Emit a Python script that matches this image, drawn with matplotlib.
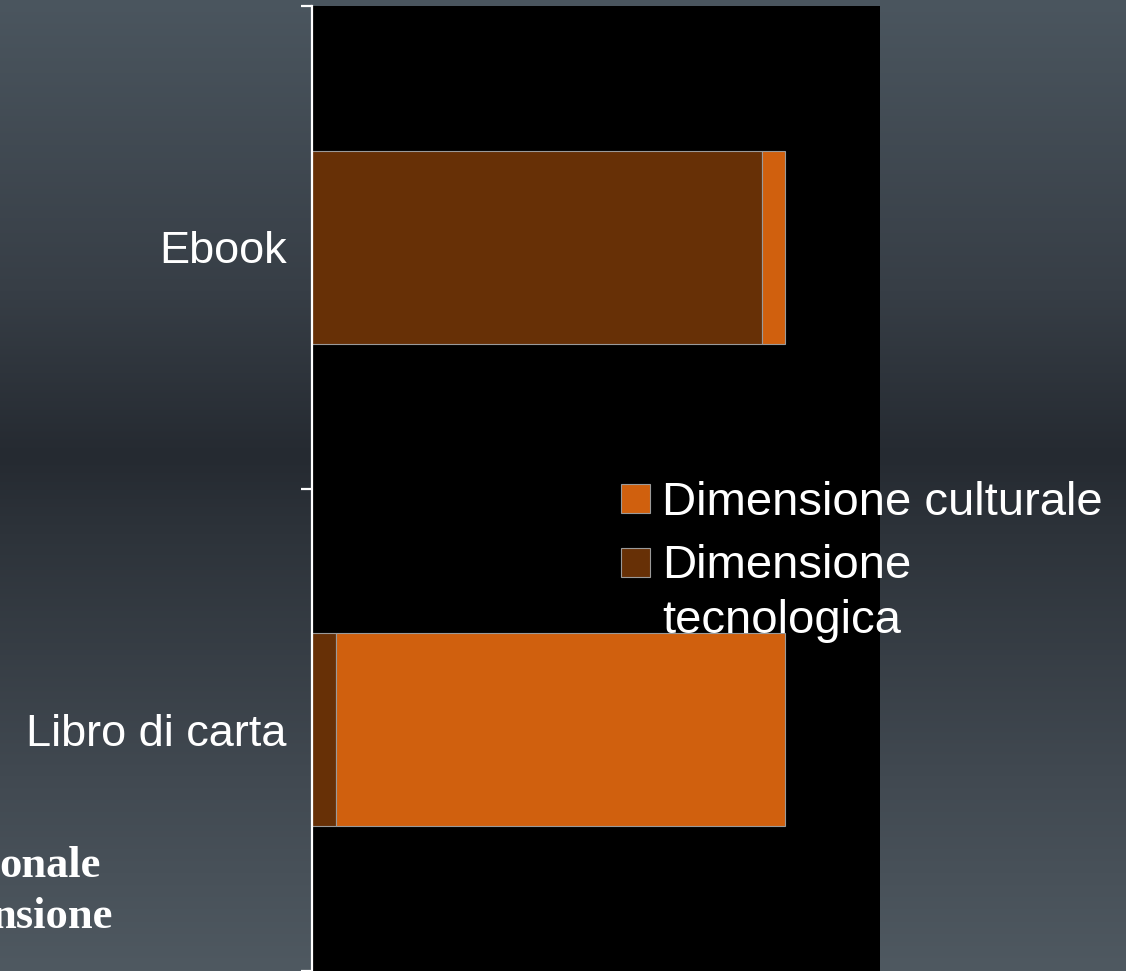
import numpy as np
import matplotlib.pyplot as plt
from matplotlib.patches import Rectangle

categories = ['Libro di carta', 'Ebook']
tecnologica = [5, 95]
culturale = [95, 5]
series_names = ['Dimensione culturale', 'Dimensione tecnologica']

c_cult = '#D0600E'
c_tecn = '#673006'
edge = '#9a9a9a'

W, H = 1126, 971
fig = plt.figure(figsize=(W / 100, H / 100), dpi=100)

# background gradient
stops = [0.0, 0.3, 0.47, 0.55, 0.8, 1.0]
cols = np.array([[75, 86, 95], [55, 62, 70], [37, 42, 49],
                 [45, 51, 58], [65, 73, 81], [79, 89, 97]]) / 255.0
yy = np.linspace(0, 1, 400)
grad = np.stack([np.interp(yy, stops, cols[:, k]) for k in range(3)], axis=1)
bg = fig.add_axes([0, 0, 1, 1], zorder=-1)
bg.imshow(grad[:, None, :], aspect='auto', extent=[0, 1, 1, 0])
bg.set_axis_off()

ax = fig.add_axes([312 / W, 0, (880 - 312) / W, 965 / H])
ax.set_facecolor('black')
y = np.arange(len(categories))
ax.barh(y, tecnologica, height=0.4, color=c_tecn, edgecolor=edge, linewidth=0.8)
ax.barh(y, culturale, left=tecnologica, height=0.4, color=c_cult, edgecolor=edge, linewidth=0.8)
ax.set_xlim(0, 120)
ax.set_ylim(-0.5, 1.5)

for s in ['top', 'right', 'bottom']:
    ax.spines[s].set_visible(False)
ax.spines['left'].set_color('white')
ax.spines['left'].set_linewidth(1.6)
ax.set_xticks([])
ax.set_yticks([-0.5, 0.5, 1.5])
ax.set_yticklabels([])
ax.tick_params(axis='y', which='major', direction='out', length=8, width=1.6, color='white')
ax.set_yticks(y, minor=True)
ax.set_yticklabels(categories, minor=True, fontsize=32.5, color='white',
                   fontfamily='Liberation Sans')
ax.tick_params(axis='y', which='minor', length=0, pad=18)

# legend, drawn by hand so the swatch sits by the first line
fig.patches.append(Rectangle((621 / W, 1 - 513 / H), 29 / W, 29 / H,
                             transform=fig.transFigure, facecolor=c_cult,
                             edgecolor=edge, linewidth=0.8))
fig.patches.append(Rectangle((621 / W, 1 - 577 / H), 29 / W, 29 / H,
                             transform=fig.transFigure, facecolor=c_tecn,
                             edgecolor=edge, linewidth=0.8))
fig.text(662 / W, 1 - 515 / H, series_names[0], color='white', fontsize=34,
         fontfamily='Liberation Sans', va='baseline', ha='left')
fig.text(662 / W, 1 - 578 / H, series_names[1].split()[0], color='white', fontsize=34,
         fontfamily='Liberation Sans', va='baseline', ha='left')
fig.text(662 / W, 1 - 633 / H, series_names[1].split()[1], color='white', fontsize=34,
         fontfamily='Liberation Sans', va='baseline', ha='left')

# cut-off slide text at bottom left
fig.text(101 / W, 1 - 877 / H, 'onale', color='white', fontsize=32, fontweight='bold',
         fontfamily='Liberation Serif', va='baseline', ha='right')
fig.text(113 / W, 1 - 928 / H, 'nsione', color='white', fontsize=32, fontweight='bold',
         fontfamily='Liberation Serif', va='baseline', ha='right')

fig.savefig('out.png', dpi=100)
